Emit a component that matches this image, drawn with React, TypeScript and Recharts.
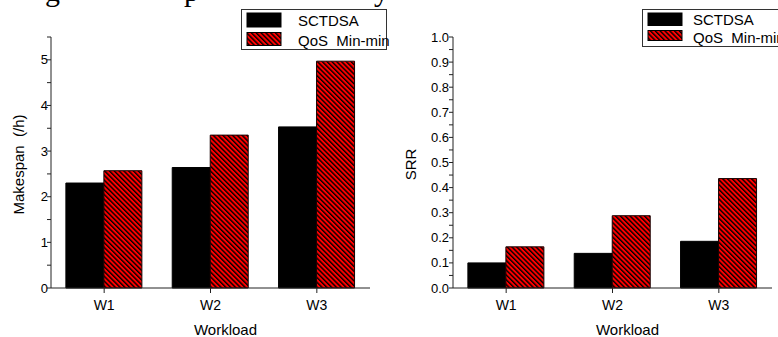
import React from 'react';
import { BarChart, Bar, XAxis, YAxis, Legend } from 'recharts';

const workloads = ['W1', 'W2', 'W3'];
const seriesNames = ['SCTDSA', 'QoS  Min-min'];
const sctdsaMakespan = [2.3, 2.64, 3.53];
const qosMakespan = [2.57, 3.35, 4.97];
const sctdsaSRR = [0.1, 0.138, 0.186];
const qosSRR = [0.164, 0.288, 0.436];
const makespanTicks = [0, 0.5, 1, 1.5, 2, 2.5, 3, 3.5, 4, 4.5, 5, 5.5];
const makespanLabels = [0, 1, 2, 3, 4, 5];
const srrTicks = [0, 0.05, 0.1, 0.15, 0.2, 0.25, 0.3, 0.35, 0.4, 0.45, 0.5, 0.55, 0.6, 0.65, 0.7, 0.75, 0.8, 0.85, 0.9, 0.95, 1.0];
const srrLabels = [0, 0.1, 0.2, 0.3, 0.4, 0.5, 0.6, 0.7, 0.8, 0.9, 1.0];
const captionLetters = ['g', 'p', 'y'];
const captionX = [45, 184, 374];

const makespanData = workloads.map((w, i) => ({ name: w, a: sctdsaMakespan[i], b: qosMakespan[i] }));
const srrData = workloads.map((w, i) => ({ name: w, a: sctdsaSRR[i], b: qosSRR[i] }));

const SANS = '"Liberation Sans", Arial, Helvetica, sans-serif';
const AXIS = '#222';

function Hatch({ id }: { id: string }) {
  return (
    <pattern id={id} patternUnits="userSpaceOnUse" width={3.4} height={3.4} patternTransform="rotate(-45)">
      <rect x={0} y={0} width={3.4} height={3.4} fill="#ff0000" />
      <rect x={0} y={0} width={1.4} height={3.4} fill="#000" />
    </pattern>
  );
}

function makeLegend(id: string, cfg: { w: number; h: number; rows: number[]; swY: number[]; swH: number[]; textX: number }) {
  return () => (
    <svg width={cfg.w} height={cfg.h} style={{ display: 'block', overflow: 'visible' }}>
      <defs>
        <Hatch id={id} />
      </defs>
      <rect x={0.5} y={0.5} width={cfg.w - 1} height={cfg.h - 1} fill="#fff" stroke="#333" strokeWidth={1} />
      {seriesNames.map((n, i) => (
        <g key={n}>
          <rect x={6} y={cfg.swY[i]} width={34} height={cfg.swH[i]} fill={i === 0 ? '#000' : `url(#${id})`} stroke="#000" strokeWidth={1} />
          <text x={cfg.textX} y={cfg.rows[i]} fontFamily={SANS} fontSize={15} fill="#000" dominantBaseline="central" style={{ whiteSpace: 'pre' }} xmlSpace="preserve">
            {n}
          </text>
        </g>
      ))}
    </svg>
  );
}

function makeYTick(labels: number[], fmt: (v: number) => string) {
  return (props: any) => {
    const { x, y, payload } = props;
    const v = payload.value;
    const isMajor = labels.some((l) => Math.abs(l - v) < 1e-9);
    if (!isMajor) return <g />;
    return (
      <text x={x} y={y} textAnchor="end" dominantBaseline="central" fontFamily={SANS} fontSize={13} fill="#000">
        {fmt(v)}
      </text>
    );
  };
}

function Panel(props: {
  data: any[];
  width: number;
  yWidth: number;
  rightMargin: number;
  domain: [number, number];
  ticks: number[];
  labels: number[];
  fmt: (v: number) => string;
  yLabel: string;
  yLabelX: number;
  hatchId: string;
  legendId: string;
  legendLeft: number;
  legendCfg: any;
  tickMargin: number;
}) {
  const p = props;
  return (
    <BarChart
      width={p.width}
      height={337}
      data={p.data}
      margin={{ top: 37, right: p.rightMargin, bottom: 19, left: 0 }}
      barCategoryGap="14%"
      barGap={0}
    >
      <defs>
        <Hatch id={p.hatchId} />
      </defs>
      <XAxis
        dataKey="name"
        height={30}
        tickSize={5}
        tickMargin={7}
        axisLine={{ stroke: AXIS }}
        tickLine={{ stroke: AXIS }}
        tick={{ fontSize: 14, fill: '#000', fontFamily: SANS }}
        label={{
          value: 'Workload',
          content: (lp: any) => {
            const vb = lp.viewBox;
            return (
              <text x={vb.x + vb.width / 2 + 15} y={335} textAnchor="middle" fontFamily={SANS} fontSize={15} fill="#000">
                Workload
              </text>
            );
          },
        }}
      />
      <YAxis
        width={p.yWidth}
        domain={p.domain}
        ticks={p.ticks}
        interval={0}
        tickSize={4}
        tickMargin={p.tickMargin}
        axisLine={{ stroke: AXIS }}
        tickLine={{ stroke: AXIS }}
        tick={makeYTick(p.labels, p.fmt)}
        label={{
          value: p.yLabel,
          content: (lp: any) => {
            const vb = lp.viewBox;
            const cy = vb.y + vb.height / 2 + 2;
            return (
              <text
                x={p.yLabelX}
                y={cy}
                transform={`rotate(-90, ${p.yLabelX}, ${cy})`}
                textAnchor="middle"
                dominantBaseline="central"
                fontFamily={SANS}
                fontSize={15}
                fill="#000"
                xmlSpace="preserve"
                style={{ whiteSpace: 'pre' }}
              >
                {p.yLabel}
              </text>
            );
          },
        }}
      />
      <Legend
        layout="horizontal"
        verticalAlign="middle"
        align="center"
        content={makeLegend(p.legendId, p.legendCfg)}
        wrapperStyle={{ left: p.legendLeft, top: 9, width: 'auto', height: 'auto' }}
      />
      <Bar dataKey="a" name={seriesNames[0]} fill="#000" stroke="#000" strokeWidth={1} isAnimationActive={false} />
      <Bar dataKey="b" name={seriesNames[1]} fill={`url(#${p.hatchId})`} stroke="#1a0000" strokeWidth={1} isAnimationActive={false} />
    </BarChart>
  );
}

export default function App() {
  return (
    <div style={{ position: 'fixed', left: 0, top: 0, width: 778, height: 337, overflow: 'hidden', background: '#fff' }}>
      <svg width={778} height={20} style={{ position: 'absolute', left: 0, top: 0 }}>
        {captionLetters.map((c, i) => (
          <text key={c + i} x={captionX[i]} y={1} fontFamily='"Liberation Serif", "Times New Roman", serif' fontSize={30} fill="#000">
            {c}
          </text>
        ))}
      </svg>
      <div style={{ position: 'absolute', left: 0, top: 0 }}>
        <Panel
          data={makespanData}
          width={389}
          yWidth={51}
          rightMargin={19}
          domain={[0, 5.5]}
          ticks={makespanTicks}
          labels={makespanLabels}
          fmt={(v) => String(v)}
          yLabel="Makespan  (/h)"
          yLabelX={18}
          hatchId="hatchL"
          legendId="hatchLegL"
          legendLeft={241}
          legendCfg={{ w: 146, h: 41, rows: [11, 31], swY: [4, 23.5], swH: [14, 13], textX: 57 }}
          tickMargin={-1}
        />
      </div>
      <div style={{ position: 'absolute', left: 389, top: 0 }}>
        <Panel
          data={srrData}
          width={389}
          yWidth={64}
          rightMargin={6}
          domain={[0, 1]}
          ticks={srrTicks}
          labels={srrLabels}
          fmt={(v) => v.toFixed(1)}
          yLabel="SRR"
          yLabelX={21}
          hatchId="hatchR"
          legendId="hatchLegR"
          legendLeft={253}
          legendCfg={{ w: 146, h: 38, rows: [10, 28], swY: [4, 21.5], swH: [12.5, 10], textX: 51 }}
          tickMargin={0}
        />
      </div>
    </div>
  );
}
